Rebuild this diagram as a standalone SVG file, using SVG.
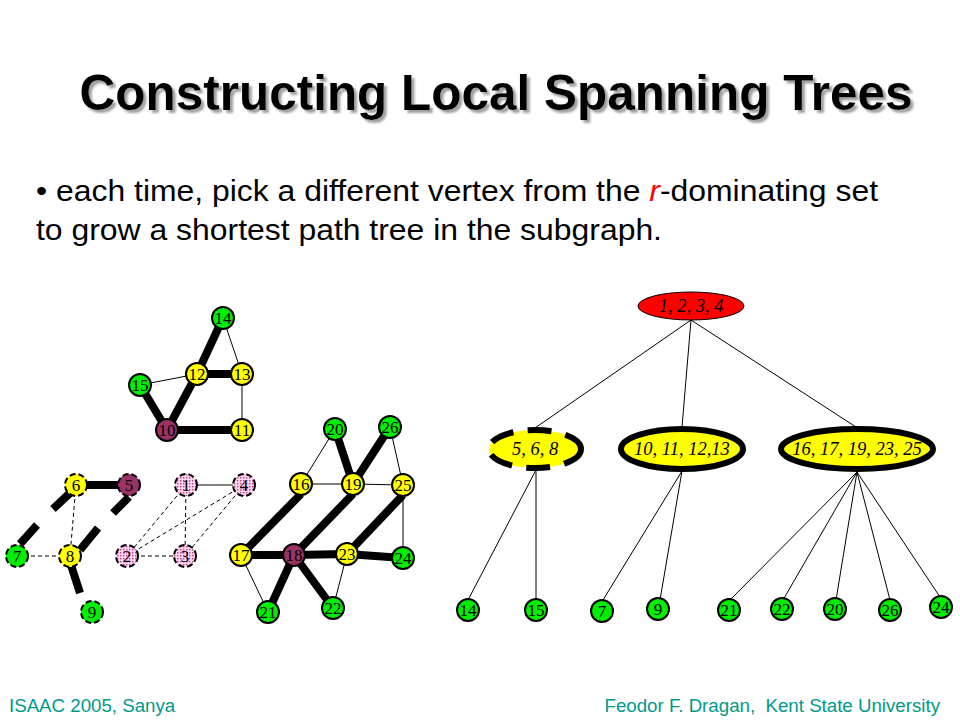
<svg xmlns="http://www.w3.org/2000/svg" width="960" height="720" viewBox="0 0 960 720">
<defs>
<pattern id="dots" width="3" height="3" patternUnits="userSpaceOnUse">
<rect width="3" height="3" fill="#ffd6f2"/>
<rect x="0" y="0" width="1.4" height="1.4" fill="#c0407f"/>
</pattern>
<filter id="shadow" filterUnits="userSpaceOnUse" x="40" y="40" width="900" height="110">
<feDropShadow dx="3" dy="3" stdDeviation="1.2" flood-color="#888" flood-opacity="0.8"/>
</filter>
</defs>
<style>
.title{font-family:"Liberation Sans",Arial,sans-serif;font-weight:bold;font-size:50px}
.body{font-family:"Liberation Sans",Arial,sans-serif;font-size:30px;fill:#000}
.foot{font-family:"Liberation Sans",Arial,sans-serif;font-size:18.7px;fill:#009a8a}
.n circle{stroke:#000;stroke-width:2}
.n text{font-family:"Liberation Serif","Times New Roman",serif;font-size:17px;text-anchor:middle;fill:#000}
.e text{font-family:"Liberation Serif","Times New Roman",serif;font-style:italic;font-size:18.5px;text-anchor:middle;fill:#000}
.g{fill:#00ee00}
.y{fill:#ffff00}
.p{fill:#993366}
.k{fill:url(#dots)}
.d circle{stroke-dasharray:6 3}
.thick{stroke:#000;stroke-width:8;fill:none}
.thin{stroke:#000;stroke-width:1;fill:none}
.dash{stroke:#000;stroke-width:1;stroke-dasharray:4 3;fill:none}
</style>
<rect width="960" height="720" fill="#fff"/>
<g id="title" filter="url(#shadow)">
<text class="title" x="496" y="110" fill="#000" text-anchor="middle" textLength="833" lengthAdjust="spacingAndGlyphs">Constructing Local Spanning Trees</text>
</g>
<g id="bullet">
<text class="body" x="36" y="201" textLength="842" lengthAdjust="spacingAndGlyphs">• each time, pick a different vertex from the <tspan fill="#ff0000" font-style="italic">r</tspan>-dominating set</text>
<text class="body" x="36" y="240" textLength="626" lengthAdjust="spacingAndGlyphs">to grow a shortest path tree in the subgraph.</text>
</g>
<g id="connectors">
<line class="thick" x1="223" y1="318" x2="197" y2="374"/>
<line class="thick" x1="197" y1="374" x2="242" y2="374"/>
<line class="thin" x1="223" y1="318" x2="242" y2="374"/>
<line class="thin" x1="140" y1="385" x2="197" y2="374"/>
<line class="thick" x1="140" y1="385" x2="167" y2="430"/>
<line class="thick" x1="197" y1="374" x2="167" y2="430"/>
<line class="thin" x1="242" y1="374" x2="242" y2="430"/>
<line class="thick" x1="167" y1="430" x2="242" y2="430"/>
<line class="dash" x1="76" y1="485" x2="70" y2="556"/>
<line class="dash" x1="17" y1="556" x2="70" y2="556"/>
<line class="thick" x1="80" y1="485" x2="125" y2="485"/>
<line class="thick" x1="70" y1="493" x2="53" y2="509"/>
<line class="thick" x1="37" y1="525" x2="20" y2="544"/>
<line class="thick" x1="129" y1="497" x2="113" y2="513"/>
<line class="thick" x1="98" y1="528" x2="80" y2="550"/>
<line class="thick" x1="70" y1="562" x2="80" y2="593"/>
<line class="thin" x1="186" y1="485" x2="244" y2="485"/>
<line class="dash" x1="186" y1="485" x2="127" y2="556"/>
<line class="dash" x1="186" y1="485" x2="185" y2="556"/>
<line class="dash" x1="244" y1="485" x2="127" y2="556"/>
<line class="dash" x1="244" y1="485" x2="185" y2="556"/>
<line class="dash" x1="127" y1="556" x2="185" y2="556"/>
<line class="thin" x1="335" y1="429" x2="301" y2="484"/>
<line class="thick" x1="335" y1="429" x2="353" y2="484"/>
<line class="thick" x1="390" y1="427" x2="353" y2="484"/>
<line class="thin" x1="390" y1="427" x2="403" y2="485"/>
<line class="thin" x1="301" y1="484" x2="353" y2="484"/>
<line class="thin" x1="353" y1="484" x2="403" y2="485"/>
<line class="thick" x1="301" y1="494" x2="241" y2="555"/>
<line class="thick" x1="353" y1="494" x2="294" y2="555"/>
<line class="thick" x1="403" y1="495" x2="347" y2="554"/>
<line class="thin" x1="403" y1="485" x2="403" y2="558"/>
<line class="thick" x1="241" y1="555" x2="294" y2="555"/>
<line class="thick" x1="294" y1="555" x2="347" y2="554"/>
<line class="thick" x1="347" y1="554" x2="403" y2="558"/>
<line class="thin" x1="241" y1="555" x2="268" y2="612"/>
<line class="thick" x1="294" y1="555" x2="268" y2="612"/>
<line class="thick" x1="294" y1="555" x2="333" y2="608"/>
<line class="thin" x1="347" y1="554" x2="333" y2="608"/>
<line class="thin" x1="691" y1="320" x2="535" y2="428"/>
<line class="thin" x1="691" y1="320" x2="682" y2="427"/>
<line class="thin" x1="691" y1="320" x2="856" y2="427"/>
<line class="thin" x1="536" y1="470" x2="468" y2="600"/>
<line class="thin" x1="536" y1="470" x2="536" y2="600"/>
<line class="thin" x1="682" y1="471" x2="603" y2="600"/>
<line class="thin" x1="682" y1="471" x2="660" y2="600"/>
<line class="thin" x1="857" y1="472" x2="730" y2="600"/>
<line class="thin" x1="857" y1="472" x2="783" y2="600"/>
<line class="thin" x1="857" y1="472" x2="836" y2="600"/>
<line class="thin" x1="857" y1="472" x2="890" y2="600"/>
<line class="thin" x1="857" y1="472" x2="940" y2="597"/>
</g>
<g id="n14" class="n"><circle class="g" cx="223" cy="318" r="11"/><text x="223" y="324">14</text></g>
<g id="n12" class="n"><circle class="y" cx="197" cy="374" r="11"/><text x="197" y="380">12</text></g>
<g id="n13" class="n"><circle class="y" cx="242" cy="374" r="11"/><text x="242" y="380">13</text></g>
<g id="n15" class="n"><circle class="g" cx="140" cy="385" r="11"/><text x="140" y="391">15</text></g>
<g id="n10" class="n"><circle class="p" cx="167" cy="430" r="11"/><text x="167" y="436">10</text></g>
<g id="n11" class="n"><circle class="y" cx="242" cy="430" r="11"/><text x="242" y="436">11</text></g>
<g id="n6" class="n d"><circle class="y" cx="76" cy="485" r="11"/><text x="76" y="491">6</text></g>
<g id="n5" class="n d"><circle class="p" cx="129" cy="485" r="11"/><text x="129" y="491">5</text></g>
<g id="n7" class="n d"><circle class="g" cx="17" cy="556" r="11"/><text x="17" y="562">7</text></g>
<g id="n8" class="n d"><circle class="y" cx="70" cy="556" r="11"/><text x="70" y="562">8</text></g>
<g id="n9" class="n d"><circle class="g" cx="92" cy="612" r="11"/><text x="92" y="618">9</text></g>
<g id="n1" class="n d"><circle class="k" cx="186" cy="485" r="11"/><text x="186" y="491">1</text></g>
<g id="n4" class="n d"><circle class="k" cx="244" cy="485" r="11"/><text x="244" y="491">4</text></g>
<g id="n2" class="n d"><circle class="k" cx="127" cy="556" r="11"/><text x="127" y="562">2</text></g>
<g id="n3" class="n d"><circle class="k" cx="185" cy="556" r="11"/><text x="185" y="562">3</text></g>
<g id="n20" class="n"><circle class="g" cx="335" cy="429" r="11"/><text x="335" y="435">20</text></g>
<g id="n26" class="n"><circle class="g" cx="390" cy="427" r="11"/><text x="390" y="433">26</text></g>
<g id="n16" class="n"><circle class="y" cx="301" cy="484" r="11"/><text x="301" y="490">16</text></g>
<g id="n19" class="n"><circle class="y" cx="353" cy="484" r="11"/><text x="353" y="490">19</text></g>
<g id="n25" class="n"><circle class="y" cx="403" cy="485" r="11"/><text x="403" y="491">25</text></g>
<g id="n17" class="n"><circle class="y" cx="241" cy="555" r="11"/><text x="241" y="561">17</text></g>
<g id="n18" class="n"><circle class="p" cx="294" cy="555" r="11"/><text x="294" y="561">18</text></g>
<g id="n23" class="n"><circle class="y" cx="347" cy="554" r="11"/><text x="347" y="560">23</text></g>
<g id="n24" class="n"><circle class="g" cx="403" cy="558" r="11"/><text x="403" y="564">24</text></g>
<g id="n21" class="n"><circle class="g" cx="268" cy="612" r="11"/><text x="268" y="618">21</text></g>
<g id="n22" class="n"><circle class="g" cx="333" cy="608" r="11"/><text x="333" y="614">22</text></g>
<g id="t1234" class="e"><ellipse cx="691" cy="306" rx="53" ry="14" fill="#ff0000" stroke="#000" stroke-width="1"/><text x="691" y="312">1, 2, 3, 4</text></g>
<g id="t568" class="e"><ellipse cx="535" cy="449" rx="46" ry="19" fill="#ffff00" stroke="#000" stroke-width="6" stroke-dasharray="24 14"/><text x="535" y="455">5, 6, 8</text></g>
<g id="t10111213" class="e"><ellipse cx="682" cy="449" rx="61" ry="20" fill="#ffff00" stroke="#000" stroke-width="6"/><text x="682" y="455">10, 11, 12,13</text></g>
<g id="t1617" class="e"><ellipse cx="857" cy="449" rx="76" ry="20" fill="#ffff00" stroke="#000" stroke-width="6"/><text x="857" y="455">16, 17, 19, 23, 25</text></g>
<g id="l14" class="n"><circle class="g" cx="468" cy="610" r="11"/><text x="468" y="616">14</text></g>
<g id="l15" class="n"><circle class="g" cx="536" cy="610" r="11"/><text x="536" y="616">15</text></g>
<g id="l7" class="n"><circle class="g" cx="602" cy="611" r="11"/><text x="602" y="617">7</text></g>
<g id="l9" class="n"><circle class="g" cx="658" cy="609" r="11"/><text x="658" y="615">9</text></g>
<g id="l21" class="n"><circle class="g" cx="729" cy="610" r="11"/><text x="729" y="616">21</text></g>
<g id="l22" class="n"><circle class="g" cx="782" cy="609" r="11"/><text x="782" y="615">22</text></g>
<g id="l20" class="n"><circle class="g" cx="835" cy="609" r="11"/><text x="835" y="615">20</text></g>
<g id="l26" class="n"><circle class="g" cx="890" cy="610" r="11"/><text x="890" y="616">26</text></g>
<g id="l24" class="n"><circle class="g" cx="941" cy="607" r="11"/><text x="941" y="613">24</text></g>
<g id="footer">
<text class="foot" x="9" y="712">ISAAC 2005, Sanya</text>
<text class="foot" x="940" y="712" text-anchor="end" xml:space="preserve">Feodor F. Dragan,  Kent State University</text>
</g>
</svg>
